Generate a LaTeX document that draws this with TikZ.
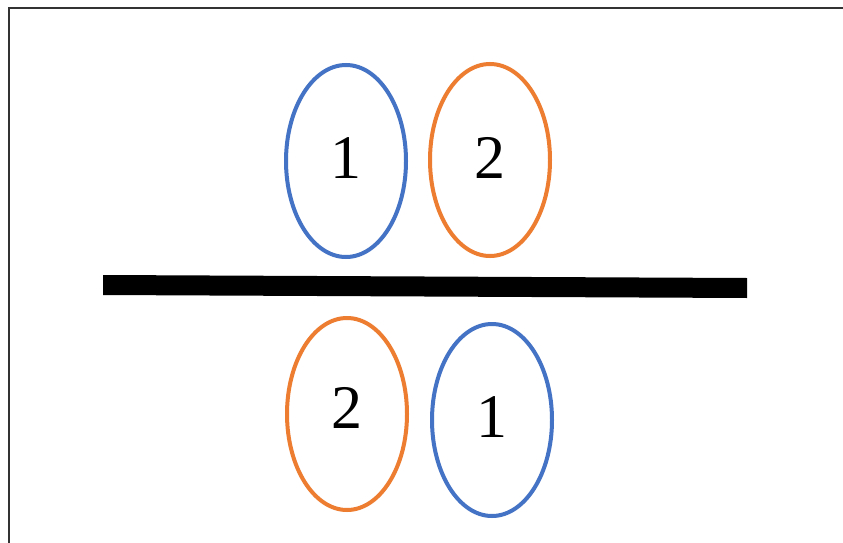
\documentclass[tikz,border=0pt]{standalone}
\usepackage{fontspec}
\setmainfont{Liberation Serif}
\usetikzlibrary{shapes.geometric}
\definecolor{oblue}{HTML}{4472C4}
\definecolor{oorange}{HTML}{ED7D31}
\tikzset{
  oval/.style={ellipse, draw=#1, line width=4pt, minimum width=120pt, minimum height=192pt, inner sep=0pt, font=\fontsize{62}{62}\selectfont, text=black},
}
\begin{document}
\begin{tikzpicture}[x=1pt,y=-1pt]
\useasboundingbox (0,0) rectangle (843,543);
\fill[white] (0,0) rectangle (843,543);
\coordinate (tl) at (8.5,8.5);
\coordinate (tr) at (843,8.5);
\coordinate (bl) at (8.5,543);
\draw[line width=2pt, black!80] (tr) -- (tl) -- (bl);
\node[oval=oblue] (b1) at (346,161) {\raisebox{6pt}{1}};
\node[oval=oorange] (o1) at (490,160) {\raisebox{4pt}{2}};
\node[oval=oorange] (o2) at (347,414) {\raisebox{12pt}{2}};
\node[oval=oblue] (b2) at (492,420) {\raisebox{5pt}{1}};
\coordinate (l1) at (103,275);
\coordinate (l2) at (747,278);
\coordinate (l3) at (747,298);
\coordinate (l4) at (103,295);
\fill[black] (l1) -- (l2) -- (l3) -- (l4) -- cycle;
\end{tikzpicture}
\end{document}
